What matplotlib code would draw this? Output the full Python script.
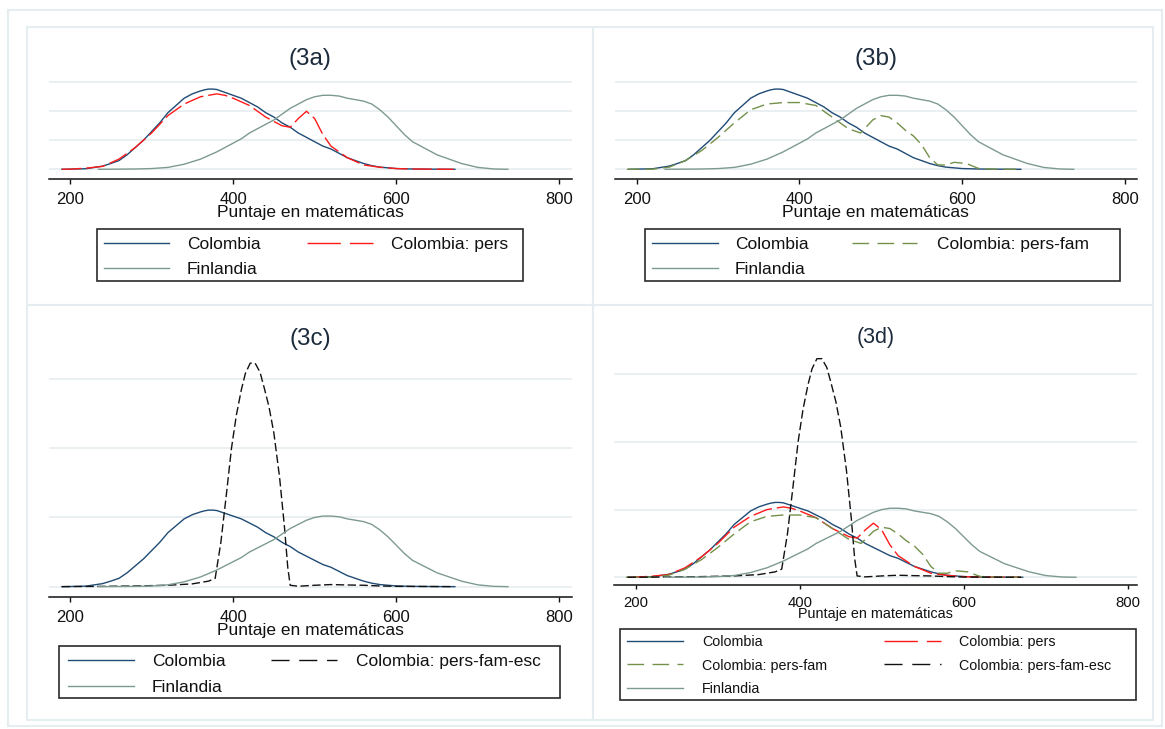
import matplotlib
matplotlib.use("Agg")
import matplotlib.pyplot as plt
from matplotlib.lines import Line2D
from matplotlib.patches import Rectangle

plt.rcParams["font.family"] = ["Liberation Sans", "DejaVu Sans"]

W, H = 1165, 729

# kernel densities: math score -> density
colombia_x = [190, 200, 220, 240, 250, 260, 270, 280, 290, 300, 310, 320, 330, 340, 350,
              360, 365, 370, 375, 380, 385, 390, 400, 410, 420, 430, 440, 450, 460, 470,
              480, 490, 500, 510, 520, 530, 540, 550, 560, 570, 580, 600, 620, 640, 672]
colombia_y = [0, 0.00001, 0.00004, 0.00022, 0.0004, 0.0006, 0.001, 0.0015, 0.002, 0.0026,
              0.0032, 0.0039, 0.0044, 0.0049, 0.0052, 0.0054, 0.00548, 0.00553, 0.00553,
              0.0055, 0.0054, 0.0053, 0.0051, 0.0049, 0.0046, 0.0043, 0.0039, 0.0036,
              0.0032, 0.0029, 0.0025, 0.0022, 0.0019, 0.0016, 0.0014, 0.0011, 0.0008,
              0.0006, 0.0004, 0.00025, 0.00015, 0.00005, 0.00002, 0.00001, 0]

pers_x = [190, 200, 220, 240, 260, 280, 300, 320, 340, 360, 370, 380, 390, 400, 420, 440,
          460, 470, 480, 490, 500, 510, 520, 540, 560, 580, 600, 620, 640, 670]
pers_y = [0, 0.00001, 0.00008, 0.0002, 0.0007, 0.0015, 0.0025, 0.0037, 0.0045, 0.0050,
          0.0051, 0.0052, 0.0051, 0.0049, 0.0044, 0.0036, 0.0030, 0.0029, 0.0035, 0.0040,
          0.0035, 0.0024, 0.0016, 0.0008, 0.0003, 0.00014, 0.00005, 0.00002, 0.00001, 0]

persfam_x = [188, 220, 240, 260, 280, 300, 320, 340, 360, 380, 400, 420, 440, 460, 475,
             490, 500, 510, 520, 530, 540, 550, 560, 570, 580, 590, 605, 620, 640, 671]
persfam_y = [0, 0.00001, 0.00015, 0.0006, 0.0013, 0.0022, 0.0032, 0.0041, 0.0045, 0.0046,
             0.0046, 0.0044, 0.0036, 0.0028, 0.0025, 0.0034, 0.0037, 0.0036, 0.0032,
             0.0027, 0.0023, 0.0017, 0.0008, 0.0003, 0.0003, 0.00048, 0.0004, 0.00006,
             0.00001, 0]

persfamesc_x = [190, 240, 280, 320, 350, 370, 378, 385, 392, 398, 404, 410, 415, 421, 427,
                433, 438, 444, 450, 457, 463, 467, 470, 480, 500, 520, 540, 560, 580,
                600, 640, 670]
persfamesc_y = [0, 0.00002, 0.00005, 0.0001, 0.0002, 0.0004, 0.0006, 0.0032, 0.0068,
                0.0100, 0.0124, 0.0142, 0.0154, 0.01615, 0.01615, 0.0155, 0.0144, 0.0130,
                0.0111, 0.0079, 0.0043, 0.0014, 0.0001, 0.00003, 0.0001, 0.00015,
                0.00012, 0.0001, 0.00005, 0.00002, 0.00001, 0]

finlandia_x = [235, 260, 280, 300, 320, 340, 360, 380, 390, 400, 410, 420, 430, 440, 450,
               460, 470, 480, 490, 500, 510, 520, 530, 540, 550, 560, 570, 580, 590, 600,
               610, 620, 630, 640, 650, 660, 680, 700, 720, 737]
finlandia_y = [0, 0.00001, 0.00002, 0.00005, 0.00013, 0.00035, 0.0007, 0.0012, 0.0015,
               0.0018, 0.0021, 0.0025, 0.0028, 0.0031, 0.0034, 0.0038, 0.0042, 0.0045,
               0.0048, 0.0050, 0.0051, 0.0051, 0.00505, 0.0049, 0.0048, 0.0047, 0.0045,
               0.0041, 0.0036, 0.0030, 0.0024, 0.0019, 0.0016, 0.0013, 0.0010, 0.0008,
               0.0004, 0.00013, 0.00002, 0]

x_ticks = [200, 400, 600, 800]
grid_low = [0, 0.002, 0.004, 0.006]
grid_high = [0, 0.005, 0.010, 0.015]
xlabel = "Puntaje en matemáticas"

series = {
    "Colombia": (colombia_x, colombia_y),
    "Colombia: pers": (pers_x, pers_y),
    "Colombia: pers-fam": (persfam_x, persfam_y),
    "Colombia: pers-fam-esc": (persfamesc_x, persfamesc_y),
    "Finlandia": (finlandia_x, finlandia_y),
}

# colour, dashes in the plot, dashes in the legend key
style = {
    "Colombia": ("#1f4b75", None, None),
    "Colombia: pers": ("#ff1a1a", (14, 3.5), (24, 6.5)),
    "Colombia: pers-fam": ("#74904a", (9, 4), (12, 6)),
    "Colombia: pers-fam-esc": ("#111111", (6, 2.5), (13, 7)),
    "Finlandia": ("#7d9a91", None, None),
}

panels = [
    dict(title="(3a)", lines=["Colombia", "Colombia: pers", "Finlandia"],
         box=(48.5, 75, 571.5, 179.3), xlim=(173.6, 815), ylim=(-0.00069, 0.0065),
         grid=grid_low, title_y=59.3, tick_y=198.3, label_y=212.5, ticklen=5,
         leg_box=(97, 228.7, 523, 281), leg_rows=[242.7, 268.3],
         leg_handles=[(104, 169), (307, 372.6)], leg_text=[187, 390.7],
         fs=(17.5, 12, 12.5, 12.5)),
    dict(title="(3b)", lines=["Colombia", "Colombia: pers-fam", "Finlandia"],
         box=(615, 75, 1136.7, 179.3), xlim=(173.3, 814.4), ylim=(-0.00069, 0.0065),
         grid=grid_low, title_y=59.3, tick_y=198.3, label_y=212.5, ticklen=5,
         leg_box=(645, 228.7, 1120, 281), leg_rows=[242.7, 268.3],
         leg_handles=[(652, 718), (852, 917)], leg_text=[735, 937],
         fs=(17.5, 12, 12.5, 12.5)),
    dict(title="(3c)", lines=["Colombia", "Colombia: pers-fam-esc", "Finlandia"],
         box=(48.5, 355, 571.5, 597.3), xlim=(173.6, 815), ylim=(-0.00077, 0.01674),
         grid=grid_high, title_y=339.3, tick_y=616, label_y=630, ticklen=5,
         leg_box=(59.5, 646, 559.6, 698.3), leg_rows=[660, 686],
         leg_handles=[(67.7, 133.6), (271, 336.8)], leg_text=[151.7, 355.7],
         fs=(17.5, 12, 12.5, 12.5)),
    dict(title="(3d)", lines=["Colombia", "Colombia: pers", "Colombia: pers-fam",
                              "Colombia: pers-fam-esc", "Finlandia"],
         box=(614, 350, 1137, 585), xlim=(173.4, 811.5), ylim=(-0.00057, 0.01679),
         grid=grid_high, title_y=337.3, tick_y=601.7, label_y=614, ticklen=4,
         leg_box=(620, 629, 1136.3, 700), leg_rows=[640.7, 664.3, 687.7],
         leg_handles=[(626.7, 683.3), (883.7, 940.7)], leg_text=[702.3, 959.3],
         fs=(15.5, 10.7, 10.4, 10.3)),
]

PT = 72 / 100  # points per pixel at dpi 100


def fx(x):
    return x / W


def fy(y):
    return 1 - y / H


def draw_panel(fig, p):
    l, t, r, b = p["box"]
    fs_title, fs_tick, fs_label, fs_leg = p["fs"]
    ax = fig.add_axes([fx(l), fy(b), (r - l) / W, (b - t) / H])
    ax.set_facecolor("none")

    for name in p["lines"]:
        xs, ys = series[name]
        color, dashes, _ = style[name]
        kw = dict(color=color, lw=1.0)
        if dashes:
            kw["dashes"] = dashes
        ax.plot(xs, ys, **kw)

    ax.set_xlim(*p["xlim"])
    ax.set_ylim(*p["ylim"])
    ax.set_yticks(p["grid"])
    ax.set_yticklabels([])
    ax.tick_params(axis="y", length=0)
    ax.grid(axis="y", color="#e8eff1", lw=1.3)
    ax.set_axisbelow(True)
    for s in ("left", "right", "top"):
        ax.spines[s].set_visible(False)
    ax.spines["bottom"].set_linewidth(1.1)
    ax.spines["bottom"].set_color("#111111")

    ax.set_xticks(x_ticks)
    em = fs_tick / PT
    pad_px = p["tick_y"] - 0.358 * em - b - p["ticklen"]
    ax.tick_params(axis="x", direction="out", length=p["ticklen"] * PT, width=1.0,
                   color="#111111", labelsize=fs_tick, labelcolor="#111111",
                   pad=pad_px * PT)

    h = b - t
    ax.set_xlabel(xlabel, fontsize=fs_label, color="#111111")
    ax.xaxis.set_label_coords(0.5, (b - p["label_y"]) / h)
    ax.xaxis.label.set_va("center")
    ax.set_title(p["title"], fontsize=fs_title, color="#1c2b3c",
                 y=(b - p["title_y"]) / h, va="center", pad=0)

    # legend box, Stata style
    bl, bt, br, bb = p["leg_box"]
    fig.add_artist(Rectangle((fx(bl), fy(bb)), (br - bl) / W, (bb - bt) / H,
                             transform=fig.transFigure, fill=False,
                             edgecolor="#2a2a2a", lw=1.2))
    for i, name in enumerate(p["lines"]):
        row, col = divmod(i, 2)
        y = p["leg_rows"][row]
        x0, x1 = p["leg_handles"][col]
        color, _, ldash = style[name]
        kw = dict(color=color, lw=1.0, transform=fig.transFigure)
        if ldash:
            kw["dashes"] = ldash
        fig.add_artist(Line2D([fx(x0), fx(x1)], [fy(y), fy(y)], **kw))
        fig.text(fx(p["leg_text"][col]), fy(y), name, fontsize=fs_leg,
                 color="#111111", va="center_baseline", ha="left")


fig = plt.figure(figsize=(W / 100, H / 100), dpi=100)
fig.patch.set_facecolor("white")

frame = "#e6edf1"
fig.add_artist(Rectangle((fx(8), fy(726)), (1162 - 8) / W, (726 - 10) / H,
                         transform=fig.transFigure, fill=False, edgecolor=frame, lw=1.5))
for (l, t, r, b) in [(27, 27, 593, 305), (593, 27, 1153, 305),
                     (27, 305, 593, 720), (593, 305, 1153, 720)]:
    fig.add_artist(Rectangle((fx(l), fy(b)), (r - l) / W, (b - t) / H,
                             transform=fig.transFigure, fill=False,
                             edgecolor=frame, lw=1.5))

for p in panels:
    draw_panel(fig, p)

fig.savefig("out.png", dpi=100)
